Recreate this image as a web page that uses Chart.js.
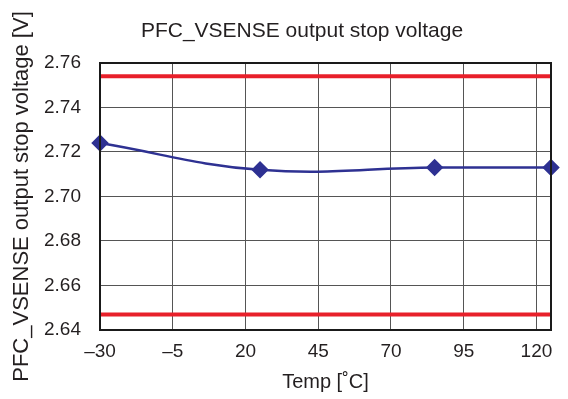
<!DOCTYPE html>
<html>
<head>
<meta charset="utf-8">
<script src="https://cdn.jsdelivr.net/npm/chart.js@4/dist/chart.umd.min.js"></script>
<style>
  html, body { margin: 0; padding: 0; background: #fff; }
  #wrap { width: 568px; height: 399px; }
</style>
</head>
<body>
<div id="wrap"><canvas id="chart" width="568" height="399"></canvas></div>
<script>
// 측정 데이터 (온도 vs 정지 전압)
const temps = [-30, 25, 85, 125];
const stopVoltage = [2.724, 2.712, 2.713, 2.713];
// 상한 / 하한 규격선
const limitX = [-30, 125];
const upperLimit = [2.754, 2.754];
const lowerLimit = [2.647, 2.647];
const xTicks = [-30, -5, 20, 45, 70, 95, 120];
const yMin = 2.64, yMax = 2.76, yStep = 0.02;
const chartTitle = 'PFC_VSENSE output stop voltage';

const FONT = "'Liberation Sans', Arial, Helvetica, sans-serif";
const TEXT = '#231f20';

function toPoints(xs, ys) {
  return xs.map((x, i) => ({ x: x, y: ys[i] }));
}

// 플롯 영역 테두리 + 제목 (플롯 영역 기준 중앙)
const boxPlugin = {
  id: 'box',
  afterDraw(chart) {
    const a = chart.chartArea;
    const c = chart.ctx;
    c.save();
    c.strokeStyle = '#1a1a1a';
    c.lineWidth = 2;
    c.strokeRect(a.left, a.top, a.right - a.left, a.bottom - a.top);
    c.fillStyle = TEXT;
    c.font = '21px ' + FONT;
    c.textAlign = 'center';
    c.textBaseline = 'middle';
    c.fillText(chartTitle, 302, 31);
    c.restore();
  }
};

new Chart(document.getElementById('chart'), {
  type: 'line',
  data: {
    datasets: [
      {
        data: toPoints(limitX, upperLimit),
        borderColor: '#e8202a',
        borderWidth: 4,
        pointRadius: 0,
        tension: 0
      },
      {
        data: toPoints(limitX, lowerLimit),
        borderColor: '#e8202a',
        borderWidth: 4,
        pointRadius: 0,
        tension: 0
      },
      {
        data: toPoints(temps, stopVoltage),
        borderColor: '#2e3192',
        backgroundColor: '#2e3192',
        borderWidth: 2.5,
        pointStyle: 'rectRot',
        pointRadius: 7,
        tension: 0.4,
        clip: false
      }
    ]
  },
  options: {
    responsive: false,
    animation: false,
    layout: { padding: { top: 63, right: 17 } },
    plugins: {
      legend: { display: false },
      tooltip: { enabled: false },
      title: { display: false }
    },
    scales: {
      x: {
        type: 'linear',
        min: -30,
        max: 125,
        afterBuildTicks: (scale) => { scale.ticks = xTicks.map(v => ({ value: v })); },
        afterFit: (scale) => { scale.height = 69; },
        ticks: {
          color: TEXT,
          font: { family: FONT, size: 19 },
          padding: 10,
          maxRotation: 0,
          callback: (v) => String(v).replace('-', '\u2013')
        },
        grid: { color: '#555', lineWidth: 1, drawTicks: false },
        border: { display: false },
        title: {
          display: true,
          text: 'Temp [\u02daC]',
          color: TEXT,
          font: { family: FONT, size: 20 },
          padding: { top: 0, bottom: 5 }
        }
      },
      y: {
        min: yMin,
        max: yMax,
        afterFit: (scale) => { scale.width = 100; },
        ticks: {
          stepSize: yStep,
          color: TEXT,
          font: { family: FONT, size: 19 },
          padding: 19,
          callback: (v) => v.toFixed(2)
        },
        grid: { color: '#555', lineWidth: 1, drawTicks: false },
        border: { display: false },
        title: {
          display: true,
          text: 'PFC_VSENSE output stop voltage [V]',
          color: TEXT,
          font: { family: FONT, size: 22 },
          padding: { top: 9, bottom: 0 }
        }
      }
    }
  },
  plugins: [boxPlugin]
});
</script>
</body>
</html>
